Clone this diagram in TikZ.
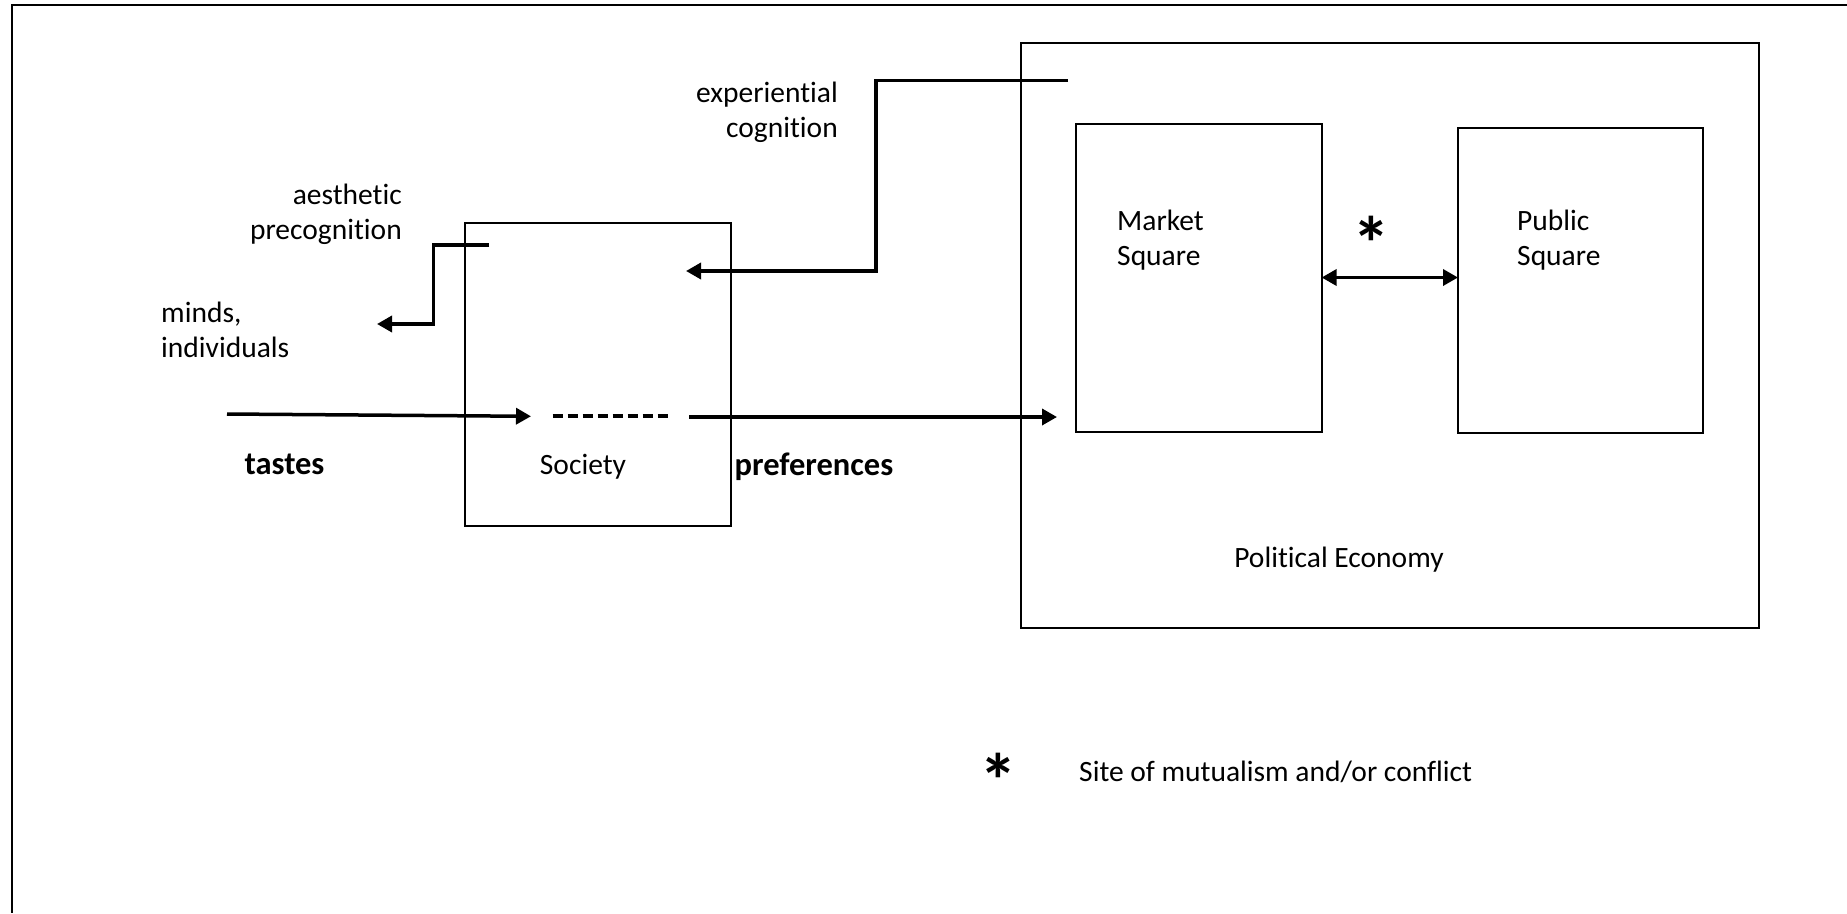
\documentclass[tikz,border=0pt]{standalone}
\usepackage{fontspec}
\setmainfont{Carlito}[Ligatures=NoCommon]
\usetikzlibrary{arrows.meta}
\tikzset{
  box/.style={draw, line width=2pt, inner sep=0pt, outer sep=0pt},
  conn/.style={line width=3.5pt, -{Triangle[length=15pt,width=16pt]}},
  lbl/.style={inner sep=0pt, font=\fontsize{29.5}{35}\selectfont},
  blbl/.style={inner sep=0pt, font=\fontsize{32.5}{38}\selectfont\bfseries},
  star/.style={inner sep=0pt, anchor=base, font=\fontsize{76}{76}\selectfont\bfseries},
}
\begin{document}
\begin{tikzpicture}[x=1pt,y=-1pt]
\useasboundingbox (0,0) rectangle (1847,913);
% outer frame (top and left visible)
\draw[line width=2pt] (1847,5) -- (12,5) -- (12,913);
% boxes
\node[box, minimum width=738pt, minimum height=585pt] (pe) at (1390,335.5) {};
\node[box, minimum width=246pt, minimum height=308pt] (mkt) at (1198.6,277.5) {};
\node[box, minimum width=245pt, minimum height=305pt] (pub) at (1580.5,280) {};
\node[box, minimum width=266.5pt, minimum height=303pt] (soc) at (598,374.5) {};
% labels
\node[lbl, anchor=west, align=left] (mktl) at (1117,240) {Market\\Square};
\node[lbl, anchor=west, align=left] (publ) at (1517,240) {Public\\Square};
\node[lbl] (pel) at (1339,560) {Political Economy};
\node[lbl] (socl) at (583,467) {Society};
\node[blbl] (tastes) at (284.5,464) {tastes};
\node[blbl] (prefs) at (814,467) {preferences};
\node[lbl, anchor=west, align=left] (minds) at (161,330) {minds,\\individuals};
\node[lbl, anchor=east, align=right] (aest) at (402,214) {aesthetic\\precognition};
\node[lbl, anchor=east, align=right] (exper) at (838,112) {experiential\\cognition};
\node[star] (star1) at (1371,270) {*};
\node[star] (star2) at (998,807) {*};
\node[lbl, anchor=west] (site) at (1079,772) {Site of mutualism and/or conflict};
% coordinates for connectors
\coordinate (e0) at (1068,80.5);
\coordinate (e1) at (876,80.5);
\coordinate (e2) at (876,271);
\coordinate (e3) at (686,271);
\coordinate (a0) at (489,245);
\coordinate (a1) at (433.5,245);
\coordinate (a2) at (433.5,324);
\coordinate (a3) at (377,324);
\coordinate (t0) at (227,414);
\coordinate (t1) at (531,416.3);
\coordinate (d0) at (552.5,416);
\coordinate (d1) at (671.5,416);
\coordinate (p0) at (689,417);
\coordinate (p1) at (1057,417);
% connectors
\draw[conn] (e0) -- (e1) -- (e2) -- (e3);
\draw[conn] (a0) -- (a1) -- (a2) -- (a3);
\draw[conn] (t0) -- (t1);
\draw[line width=4pt, dash pattern=on 10pt off 5pt] (d0) -- (d1);
\draw[conn] (p0) -- (p1);
\draw[line width=3.5pt, {Triangle[length=15pt,width=16pt]}-{Triangle[length=15pt,width=16pt]}] (mkt.east) -- (mkt.east -| pub.west);
\end{tikzpicture}
\end{document}
